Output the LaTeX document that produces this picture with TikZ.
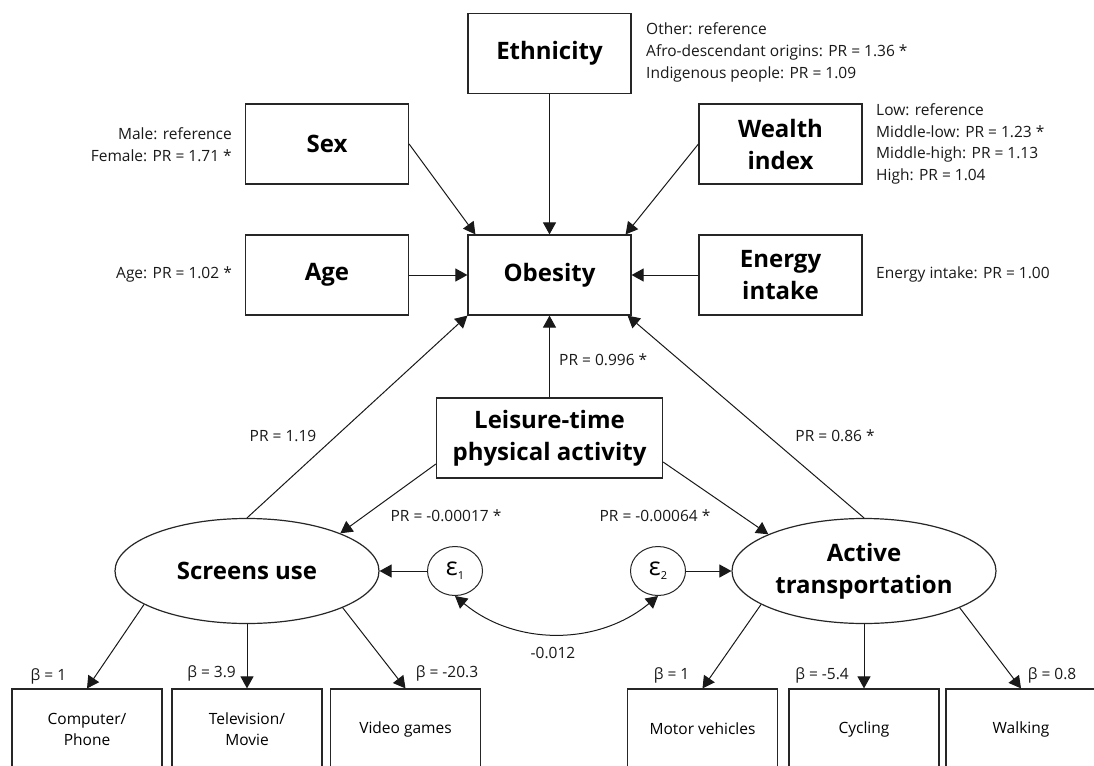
\documentclass[tikz,border=0pt]{standalone}
\usepackage{fontspec}
\setmainfont{Open Sans}
\usetikzlibrary{arrows.meta,shapes.geometric,calc}
\tikzset{every node/.style={inner sep=0pt}}
\tikzset{
  varbox/.style={draw=black!85, line width=1.2pt, rectangle, minimum width=163pt, minimum height=80pt, align=center, font=\bfseries\fontsize{24}{32}\selectfont},
  latent/.style={draw=black!85, line width=1.2pt, ellipse, minimum width=264pt, minimum height=105pt, align=center, font=\bfseries\fontsize{24}{32}\selectfont},
  errnode/.style={draw=black!85, line width=1pt, ellipse, minimum width=55pt, minimum height=49pt, font=\fontsize{25}{25}\selectfont},
  itembox/.style={draw=black!85, line width=1.2pt, rectangle, minimum width=150pt, minimum height=80pt, align=center, font=\fontsize{15.5}{21}\selectfont},
  coef/.style={font=\fontsize{15.5}{21.7}\selectfont, text=black!90},
  arr/.style={draw=black!90, line width=1pt, -{Triangle[length=12pt,width=13pt]}},
}
\newcommand{\epsi}[1]{ε\raisebox{-0.3ex}{\fontsize{11}{11}\selectfont #1}}

\begin{document}
\begin{tikzpicture}[x=1pt,y=-1pt]
\useasboundingbox[fill=white] (0,0) rectangle (1094,765);
\clip (0,0) rectangle (1094,765);

%%Boxes
\node[varbox] (eth) at (549.5,53.5) {Ethnicity};
\node[varbox] (sex) at (327,144) {Sex};
\node[varbox] (wel) at (780.5,144) {Wealth\\index};
\node[varbox] (age) at (327,275) {Age};
\node[varbox] (ob) at (549.5,275) {Obesity};
\node[varbox] (ene) at (780.5,275) {Energy\\intake};
\node[varbox, minimum width=226pt] (lei) at (549.5,438) {Leisure-time\\physical activity};

%%Latent variables and errors
\node[latent] (scr) at (247,571) {Screens use};
\node[latent] (act) at (864,571) {Active\\transportation};
\node[errnode] (e1) at (455,571) {\epsi{1}};
\node[errnode] (e2) at (658,571) {\epsi{2}};

%%Indicators
\node[itembox] (comp) at (87,729) {Computer/\\Phone};
\node[itembox] (tv) at (247,729) {Television/\\Movie};
\node[itembox] (vid) at (405.5,729) {Video games};
\node[itembox] (mot) at (702.5,729) {Motor vehicles};
\node[itembox] (cyc) at (864,729) {Cycling};
\node[itembox] (wal) at (1021,729) {Walking};

%%Covariate labels
\node[coef, anchor=east, align=right] (sexlab) at (232,145) {Male: reference\\Female: PR = 1.71 *};
\node[coef, anchor=east] (agelab) at (232,274) {Age: PR = 1.02 *};
\node[coef, anchor=west, align=left] (ethlab) at (646,52.5) {Other: reference\\Afro-descendant origins: PR = 1.36 *\\Indigenous people: PR = 1.09};
\node[coef, anchor=west, align=left] (wellab) at (876,144) {Low: reference\\Middle-low: PR = 1.23 *\\Middle-high: PR = 1.13\\High: PR = 1.04};
\node[coef, anchor=west] (enelab) at (876,274) {Energy intake: PR = 1.00};

%%Paths to obesity
\draw[arr] (sex.east) -- ($(ob.north west)+(8,0)$);
\draw[arr] (eth.south) -- (ob.north);
\draw[arr] (wel.west) -- ($(ob.north east)+(-6,0)$);
\draw[arr] (age.east) -- (ob.west);
\draw[arr] (ene.west) -- (ob.east);
\draw[arr] (scr.north) -- (ob.south west);
\draw[arr] (lei.north) -- (ob.south);
\draw[arr] (act.north) -- ($(ob.south east)+(-4,0)$);
\draw[arr] ($(lei.west)+(0,26)$) -- (scr.22);
\draw[arr] ($(lei.east)+(0,24)$) -- (act.159);
\draw[arr] (e1.west) -- (scr.east);
\draw[arr] (e2.east) -- (act.west);
\draw[arr, {Triangle[length=12pt,width=13pt]}-{Triangle[length=12pt,width=13pt]}] (e1.south) .. controls +(60,50) and +(-60,50) .. (e2.south);

%%Measurement paths
\draw[arr] (scr.-162) -- (comp.north);
\draw[arr] (scr.south) -- (tv.north);
\draw[arr] (scr.-21) -- (vid.north);
\draw[arr] (act.-162) -- (mot.north);
\draw[arr] (act.south) -- (cyc.north);
\draw[arr] (act.-21) -- (wal.north);

%%Path coefficients
\node[coef] (pr1) at (283,436) {PR = 1.19};
\node[coef, anchor=west] (pr2) at (559,360) {PR = 0.996 *};
\node[coef] (pr3) at (835,436) {PR = 0.86 *};
\node[coef] (pr4) at (446,516) {PR = -0.00017 *};
\node[coef] (pr5) at (655,516) {PR = -0.00064 *};
\node[coef] (cov) at (553,653) {-0.012};
\node[coef] (b1) at (48.5,676) {β = 1};
\node[coef, anchor=east] (b2) at (236,673) {β = 3.9};
\node[coef] (b3) at (447,673) {β = -20.3};
\node[coef] (b4) at (671.5,675) {β = 1};
\node[coef] (b5) at (822,675) {β = -5.4};
\node[coef] (b6) at (1052,675) {β = 0.8};
\end{tikzpicture}
\end{document}
